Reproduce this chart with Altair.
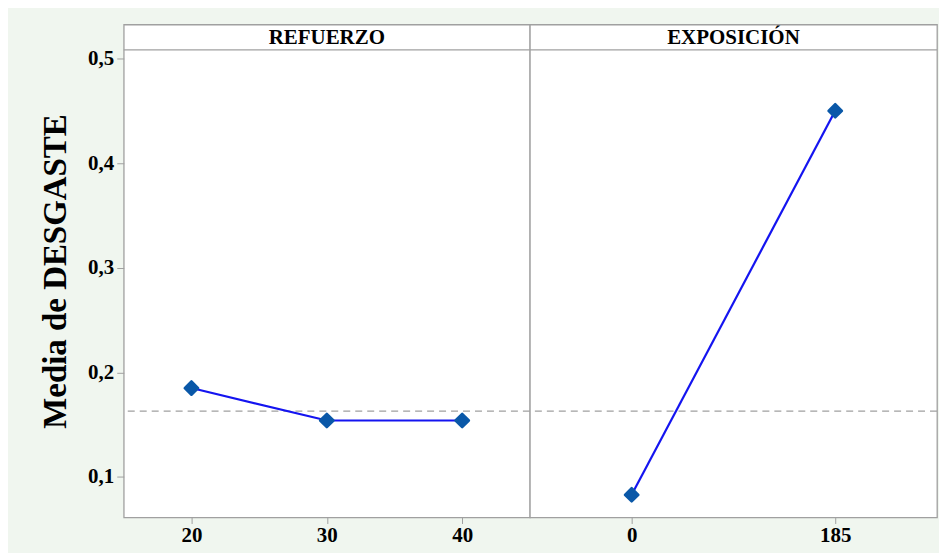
import altair as alt
import pandas as pd

# Data
factors = ["REFUERZO", "EXPOSICIÓN"]
refuerzo_levels = ["20", "30", "40"]
refuerzo_means = [0.185, 0.154, 0.154]
exposicion_levels = ["0", "185"]
exposicion_means = [0.083, 0.450]
overall_mean = 0.163
y_ticks = [0.1, 0.2, 0.3, 0.4, 0.5]

FONT = "Liberation Serif"
GRAY = "#a0a0a0"
BG = "#f0f6ef"
PW_L, PW_R, PH = 407, 408, 494
STRIP = 25.4
Y_DOMAIN = [0.0613, 0.5324]


def panel(levels, means, name, width, show_y):
    df = pd.DataFrame({"nivel": levels, "media": means})
    df_mean = pd.DataFrame({"media": [overall_mean]})
    yscale = alt.Scale(domain=Y_DOMAIN, nice=False, zero=False)
    if show_y:
        yaxis = alt.Axis(
            values=y_ticks,
            labelExpr="replace(format(datum.value, '.1f'), '.', ',')",
            title="Media de DESGASTE",
            titleFont=FONT, titleFontSize=33, titleFontWeight="bold",
            titleColor="black", titlePadding=15,
            labelFont=FONT, labelFontSize=21, labelFontWeight="bold",
            labelColor="black", labelPadding=3,
            tickSize=7, tickColor=GRAY, domain=False, grid=False,
        )
    else:
        yaxis = None
    yenc = alt.Y("media:Q", scale=yscale, axis=yaxis)
    xaxis = alt.Axis(
        title=None, labelAngle=0,
        labelFont=FONT, labelFontSize=21, labelFontWeight="bold",
        labelColor="black", labelPadding=1,
        tickSize=6, tickColor=GRAY, domain=False, grid=False,
    )
    xenc = alt.X("nivel:N", scale=alt.Scale(type="point", domain=levels, padding=0.5),
                 axis=xaxis, sort=levels)
    base = alt.Chart(df)
    line = base.mark_line(color="#1414f0", strokeWidth=2.2).encode(x=xenc, y=yenc)
    pts = base.mark_point(shape="diamond", filled=True, size=180,
                          color="#0a58a8", opacity=1,
                          strokeJoin="round", stroke="#0a58a8",
                          strokeWidth=2.5).encode(x=xenc, y=yenc)
    mean_rule = alt.Chart(df_mean).mark_rule(
        color="#a0a0a0", strokeDash=[7, 5], strokeWidth=1.2
    ).encode(y=yenc)
    strip_line = alt.Chart(df_mean).mark_rule(
        color=GRAY, strokeWidth=1.3
    ).encode(x=alt.value(0), x2=alt.value(width), y=alt.value(STRIP))
    header = alt.Chart(pd.DataFrame({"factor": [name]})).mark_text(
        font=FONT, fontSize=21, fontWeight="bold", color="black",
        baseline="middle", align="center",
    ).encode(x=alt.value(width / 2), y=alt.value(STRIP / 2 + 1),
             text="factor:N")
    return alt.layer(mean_rule, line, pts, strip_line, header).properties(
        width=width, height=PH
    )


left = panel(refuerzo_levels, refuerzo_means, factors[0], PW_L, True)
right = panel(exposicion_levels, exposicion_means, factors[1], PW_R, False)

chart = alt.hconcat(left, right, spacing=0, bounds="flush").properties(
    background=BG,
    padding={"left": 31, "top": 15, "right": 0, "bottom": 6},
).configure_view(
    stroke=GRAY, strokeWidth=1.3, fill="white"
)

chart.save("out.html", embed_options={"renderer": "svg", "actions": False})
